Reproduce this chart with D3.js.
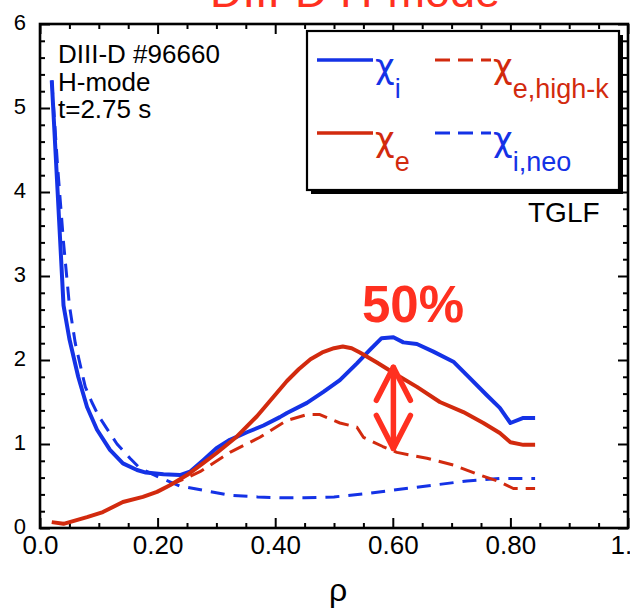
<!DOCTYPE html>
<html>
<head>
<meta charset="utf-8">
<script src="https://cdn.jsdelivr.net/npm/d3@7"></script>
<style>
  body { margin: 0; background: #fff; }
  svg { display: block; }
  text { font-family: "Liberation Sans", Arial, Helvetica, sans-serif; }
</style>
</head>
<body>
<svg id="chart" width="630" height="614"></svg>
<script>
// ---- data: TGLF transport profiles, DIII-D #96660, t = 2.75 s ----
const chiIRho = [0.02, 0.03, 0.04, 0.05, 0.065, 0.08, 0.097, 0.119, 0.141, 0.165, 0.18, 0.21, 0.238, 0.255, 0.278, 0.30, 0.323, 0.352, 0.38, 0.408, 0.42, 0.454, 0.482, 0.51, 0.539, 0.561, 0.581, 0.601, 0.618, 0.641, 0.669, 0.703, 0.726, 0.76, 0.782, 0.80, 0.822, 0.842];
const chiIVal = [5.33, 4.0, 2.65, 2.25, 1.8, 1.44, 1.17, 0.93, 0.77, 0.69, 0.66, 0.64, 0.63, 0.67, 0.81, 0.95, 1.05, 1.14, 1.22, 1.32, 1.37, 1.49, 1.62, 1.76, 1.96, 2.12, 2.26, 2.27, 2.21, 2.19, 2.10, 1.98, 1.82, 1.58, 1.43, 1.25, 1.31, 1.31];

const chiERho = [0.02, 0.04, 0.08, 0.107, 0.141, 0.175, 0.199, 0.221, 0.25, 0.277, 0.30, 0.335, 0.369, 0.386, 0.403, 0.42, 0.44, 0.46, 0.48, 0.50, 0.515, 0.53, 0.544, 0.573, 0.612, 0.641, 0.68, 0.72, 0.754, 0.782, 0.80, 0.822, 0.842];
const chiEVal = [0.07, 0.05, 0.13, 0.19, 0.31, 0.37, 0.43, 0.51, 0.63, 0.77, 0.89, 1.09, 1.33, 1.47, 1.61, 1.75, 1.89, 2.01, 2.09, 2.14, 2.16, 2.14, 2.09, 1.97, 1.80, 1.68, 1.50, 1.38, 1.25, 1.13, 1.02, 0.99, 0.99];

const chiEHkRho = [0.22, 0.25, 0.272, 0.323, 0.374, 0.408, 0.42, 0.454, 0.476, 0.51, 0.539, 0.55, 0.583, 0.607, 0.658, 0.703, 0.748, 0.782, 0.805, 0.842];
const chiEHkVal = [0.51, 0.6, 0.67, 0.9, 1.08, 1.23, 1.28, 1.35, 1.35, 1.25, 1.2, 1.08, 0.97, 0.90, 0.83, 0.75, 0.63, 0.55, 0.47, 0.47];

const chiINeoRho = [0.02, 0.03, 0.04, 0.05, 0.06, 0.077, 0.088, 0.10, 0.114, 0.131, 0.153, 0.17, 0.204, 0.238, 0.277, 0.323, 0.37, 0.41, 0.45, 0.50, 0.556, 0.612, 0.669, 0.726, 0.782, 0.842];
const chiINeoVal = [5.33, 4.3, 3.4, 2.65, 2.2, 1.68, 1.5, 1.33, 1.18, 1.0, 0.83, 0.71, 0.60, 0.50, 0.45, 0.39, 0.37, 0.36, 0.36, 0.37, 0.41, 0.46, 0.51, 0.56, 0.59, 0.59];

const xTickValues = [0, 0.2, 0.4, 0.6, 0.8, 1.0];
const xTickLabels = ["0.0", "0.20", "0.40", "0.60", "0.80", "1.0"];
const yTickValues = [0, 1, 2, 3, 4, 5, 6];
const yTickLabels = ["0", "1", "2", "3", "4", "5", "6"];

const infoLines = ["DIII-D #96660", "H-mode", "t=2.75 s"];
const titleText = "DIII-D H-mode";
const diffLabel = "50%";
const diffRho = 0.601;          // where the χi / χe,high-k gap is marked
const diffTop = 2.27;           // χi at that radius
const diffBottom = 0.90;        // χe,high-k at that radius

// ---- styles ----
const BLUE = "#1432e6";
const RED = "#d22a0e";
const BRIGHT_RED = "#ff3020";

const svg = d3.select("#chart");
const margin = { left: 40, right: 2, top: 24, bottom: 86 };
const W = 630, H = 614;

const x = d3.scaleLinear().domain([0, 1]).range([margin.left, W - margin.right]);
const y = d3.scaleLinear().domain([0, 6]).range([H - margin.bottom, margin.top]);

// title (runs off the top edge of the page)
svg.append("text")
  .attr("x", 355).attr("y", 7)
  .attr("text-anchor", "middle")
  .attr("font-size", 45)
  .attr("fill", BRIGHT_RED)
  .text(titleText);

// ---- axes: inward ticks on all four sides ----
const xMinor = d3.range(0, 1.0001, 0.05).filter(v => Math.abs(v / 0.2 - Math.round(v / 0.2)) > 1e-6);
const yMinor = d3.range(0, 6.0001, 0.2).filter(v => Math.abs(v - Math.round(v)) > 1e-6);

function styleAxis(g) {
  g.select(".domain").remove();
  g.selectAll(".tick line").attr("stroke", "#000").attr("stroke-width", 2);
}

// bottom
svg.append("g").attr("transform", `translate(0,${y(0)})`)
  .call(d3.axisBottom(x).tickValues(xTickValues).tickSize(-10).tickPadding(8)
    .tickFormat((d, i) => xTickLabels[i]))
  .call(styleAxis)
  .call(g => g.selectAll("text").attr("font-size", 26).attr("fill", "#000")
    .attr("font-family", "'Liberation Sans', Arial, sans-serif"));
svg.append("g").attr("transform", `translate(0,${y(0)})`)
  .call(d3.axisBottom(x).tickValues(xMinor).tickSize(-5).tickFormat(""))
  .call(styleAxis);
// top
svg.append("g").attr("transform", `translate(0,${y(6)})`)
  .call(d3.axisTop(x).tickValues(xTickValues).tickSize(-10).tickFormat(""))
  .call(styleAxis);
svg.append("g").attr("transform", `translate(0,${y(6)})`)
  .call(d3.axisTop(x).tickValues(xMinor).tickSize(-5).tickFormat(""))
  .call(styleAxis);
// left
svg.append("g").attr("transform", `translate(${x(0)},0)`)
  .call(d3.axisLeft(y).tickValues(yTickValues).tickSize(-10).tickPadding(14)
    .tickFormat((d, i) => yTickLabels[i]))
  .call(styleAxis)
  .call(g => g.selectAll("text").attr("font-size", 22).attr("dy", "0.24em").attr("fill", "#000")
    .attr("font-family", "'Liberation Sans', Arial, sans-serif"));
svg.append("g").attr("transform", `translate(${x(0)},0)`)
  .call(d3.axisLeft(y).tickValues(yMinor).tickSize(-5).tickFormat(""))
  .call(styleAxis);
// right
svg.append("g").attr("transform", `translate(${x(1)},0)`)
  .call(d3.axisRight(y).tickValues(yTickValues).tickSize(-10).tickFormat(""))
  .call(styleAxis);
svg.append("g").attr("transform", `translate(${x(1)},0)`)
  .call(d3.axisRight(y).tickValues(yMinor).tickSize(-5).tickFormat(""))
  .call(styleAxis);

// frame
svg.append("rect")
  .attr("x", x(0)).attr("y", y(6))
  .attr("width", x(1) - x(0)).attr("height", y(0) - y(6))
  .attr("fill", "none").attr("stroke", "#000").attr("stroke-width", 2.6);

// x-axis title
svg.append("text")
  .attr("x", 338).attr("y", 601)
  .attr("text-anchor", "middle")
  .attr("font-size", 32)
  .attr("font-family", "'Liberation Serif', 'Times New Roman', serif")
  .text("ρ");

// ---- curves ----
const line = d3.line().x(d => x(d[0])).y(d => y(d[1]));
const series = [
  { rho: chiINeoRho, val: chiINeoVal, color: BLUE, dash: "14,9", width: 3 },
  { rho: chiEHkRho, val: chiEHkVal, color: RED, dash: "15,8", width: 3 },
  { rho: chiIRho, val: chiIVal, color: BLUE, dash: null, width: 4 },
  { rho: chiERho, val: chiEVal, color: RED, dash: null, width: 4 }
];
series.forEach(s => {
  svg.append("path")
    .datum(d3.zip(s.rho, s.val))
    .attr("d", line)
    .attr("fill", "none")
    .attr("stroke", s.color)
    .attr("stroke-width", s.width)
    .attr("stroke-linejoin", "round")
    .attr("stroke-dasharray", s.dash);
});

// ---- info block ----
svg.append("g").selectAll("text").data(infoLines).join("text")
  .attr("x", 58).attr("y", (d, i) => 63 + i * 27.5)
  .attr("font-size", 26)
  .attr("fill", "#000")
  .text(d => d);

// ---- legend ----
const lg = svg.append("g");
lg.append("rect").attr("x", 311).attr("y", 35).attr("width", 312).attr("height", 159).attr("fill", "#000");
lg.append("rect").attr("x", 307).attr("y", 31).attr("width", 312).attr("height", 159)
  .attr("fill", "#fff").attr("stroke", "#000").attr("stroke-width", 2.2);

const legendItems = [
  { sub: "i", color: BLUE, dash: null, col: 0, row: 0 },
  { sub: "e,high-k", color: RED, dash: "15,8", col: 1, row: 0 },
  { sub: "e", color: RED, dash: null, col: 0, row: 1 },
  { sub: "i,neo", color: BLUE, dash: "15,8", col: 1, row: 1 }
];
legendItems.forEach(it => {
  const x0 = it.col === 0 ? 317 : 435;
  const ly = it.row === 0 ? 60 : 133;
  lg.append("line")
    .attr("x1", x0).attr("x2", x0 + 56).attr("y1", ly).attr("y2", ly)
    .attr("stroke", it.color).attr("stroke-width", it.dash ? 3 : 3.5)
    .attr("stroke-dasharray", it.dash);
  const t = lg.append("text")
    .attr("x", x0 + 58).attr("y", ly + 18)
    .attr("fill", it.color);
  t.append("tspan").attr("font-size", 34)
    .attr("font-family", "'DejaVu Sans', sans-serif").text("χ");
  t.append("tspan").attr("font-size", 27).attr("dx", 0).attr("dy", 20).text(it.sub);
});

svg.append("text")
  .attr("x", 528).attr("y", 222)
  .attr("font-size", 28)
  .attr("fill", "#000")
  .text("TGLF");

// ---- 50% gap annotation ----
svg.append("text")
  .attr("x", 362).attr("y", 322)
  .attr("font-size", 51)
  .attr("font-weight", "bold")
  .attr("fill", BRIGHT_RED)
  .text(diffLabel);

const ax = x(diffRho);
const aTop = y(diffTop) + 30, aBot = y(diffBottom) - 4;
const arrow = svg.append("g")
  .attr("stroke", BRIGHT_RED).attr("stroke-width", 5.5)
  .attr("stroke-linecap", "round").attr("stroke-linejoin", "round").attr("fill", "none");
arrow.append("line").attr("x1", ax).attr("x2", ax).attr("y1", aTop).attr("y2", aBot);
arrow.append("polyline").attr("points", `${ax - 17},${aTop + 33} ${ax},${aTop} ${ax + 17},${aTop + 33}`);
arrow.append("polyline").attr("points", `${ax - 17},${aBot - 33} ${ax},${aBot} ${ax + 17},${aBot - 33}`);
</script>
</body>
</html>
